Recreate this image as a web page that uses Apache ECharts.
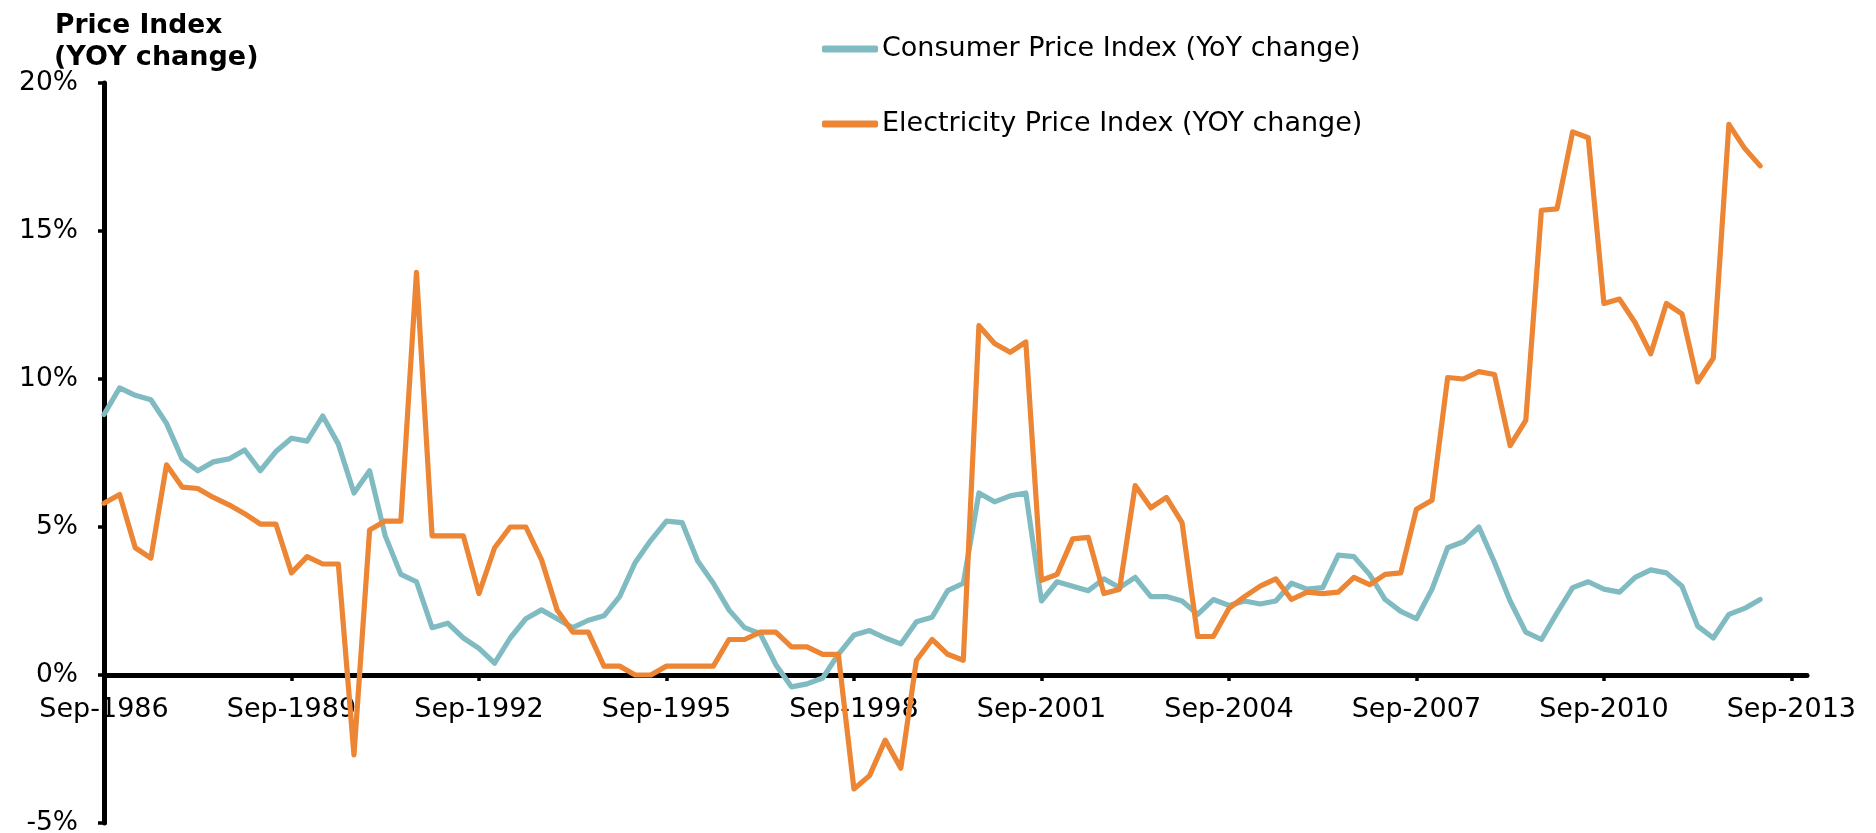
<!DOCTYPE html>
<html>
<head>
<meta charset="utf-8">
<script src="https://cdn.jsdelivr.net/npm/echarts@6/dist/echarts.min.js"></script>
<style>
html,body{margin:0;padding:0;background:#fff;}
#chart{width:1876px;height:833px;}
</style>
</head>
<body>
<div id="chart"></div>
<script>
// Quarterly categories: Sep-1986 ... Dec-2013
const months = ['Sep', 'Dec', 'Mar', 'Jun'];
const categories = [];
for (let i = 0; i < 110; i++) {
  const m = months[i % 4];
  const yr = 1986 + Math.floor((i + 1) / 4);
  categories.push(m + '-' + yr);
}

const yTicks = [-5, 0, 5, 10, 15, 20];

const cpiName = 'Consumer Price Index (YoY change)';
const elecName = 'Electricity Price Index (YOY change)';

const cpi = [8.8, 9.7, 9.45, 9.3, 8.5, 7.3, 6.9, 7.2, 7.3, 7.6,
  6.9, 7.55, 8.0, 7.9, 8.75, 7.8, 6.15, 6.9, 4.7, 3.4,
  3.15, 1.6, 1.75, 1.25, 0.9, 0.4, 1.25, 1.9, 2.2, 1.9,
  1.6, 1.85, 2.0, 2.65, 3.8, 4.55, 5.2, 5.15, 3.85, 3.1,
  2.2, 1.6, 1.4, 0.35, -0.4, -0.3, -0.1, 0.7, 1.35, 1.5,
  1.25, 1.05, 1.8, 1.95, 2.85, 3.1, 6.15, 5.85, 6.05, 6.15,
  2.5, 3.15, 3.0, 2.85, 3.25, 2.95, 3.3, 2.65, 2.65, 2.5,
  2.05, 2.55, 2.35, 2.5, 2.4, 2.5, 3.1, 2.9, 2.95, 4.05,
  4.0, 3.4, 2.55, 2.15, 1.9, 2.9, 4.3, 4.5, 5.0, 3.8,
  2.5, 1.45, 1.2, 2.1, 2.95, 3.15, 2.9, 2.8, 3.3, 3.55,
  3.45, 3.0, 1.65, 1.25, 2.05, 2.25, 2.55];

const elec = [5.8, 6.1, 4.3, 3.95, 7.1, 6.35, 6.3, 6.0, 5.75, 5.45,
  5.1, 5.1, 3.45, 4.0, 3.75, 3.75, -2.7, 4.9, 5.2, 5.2,
  13.6, 4.7, 4.7, 4.7, 2.75, 4.3, 5.0, 5.0, 3.9, 2.2,
  1.45, 1.45, 0.3, 0.3, 0.0, 0.0, 0.3, 0.3, 0.3, 0.3,
  1.2, 1.2, 1.45, 1.45, 0.95, 0.95, 0.7, 0.7, -3.85, -3.4,
  -2.2, -3.15, 0.5, 1.2, 0.7, 0.5, 11.8, 11.2, 10.9, 11.25,
  3.2, 3.4, 4.6, 4.65, 2.75, 2.9, 6.4, 5.65, 6.0, 5.15,
  1.3, 1.3, 2.25, 2.65, 3.0, 3.25, 2.55, 2.8, 2.75, 2.8,
  3.3, 3.05, 3.4, 3.45, 5.6, 5.9, 10.05, 10.0, 10.25, 10.15,
  7.75, 8.6, 15.7, 15.75, 18.35, 18.15, 12.55, 12.7, 11.9, 10.85,
  12.55, 12.2, 9.9, 10.7, 18.6, 17.8, 17.2];

const cpiColor = '#80BBC2';
const elecColor = '#EC8534';
const mainFont = '"DejaVu Sans", Verdana, sans-serif';

// grid geometry: top 83, bottom edge at 823 -> 0% sits 148px above bottom
const gridTop = 83, gridBottom = 10, chartH = 833;
const plotH = chartH - gridTop - gridBottom;
const zeroOffset = -plotH * (0 - yTicks[0]) / (yTicks[yTicks.length - 1] - yTicks[0]);

const chart = echarts.init(document.getElementById('chart'), null, {renderer: 'canvas'});
chart.setOption({
  animation: false,
  backgroundColor: '#ffffff',
  title: [
    {
      text: 'Price Index',
      left: 55,
      top: 13,
      padding: 0,
      textStyle: {fontFamily: mainFont, fontWeight: 'bold', fontSize: 26.5, lineHeight: 27, color: '#000'}
    },
    {
      text: '(YOY change)',
      left: 54,
      top: 44,
      padding: 0,
      textStyle: {fontFamily: mainFont, fontWeight: 'bold', fontSize: 27, lineHeight: 27, color: '#000'}
    }
  ],
  legend: {
    orient: 'vertical',
    left: 822,
    top: 34,
    padding: 0,
    itemWidth: 56,
    itemHeight: 7,
    itemGap: 45,
    icon: 'roundRect',
    data: [cpiName, elecName],
    textStyle: {
      fontFamily: mainFont,
      fontSize: 27,
      lineHeight: 30,
      color: '#000',
      padding: [0, 0, 0, -1]
    }
  },
  grid: {left: 104, right: 69, top: gridTop, bottom: gridBottom, containLabel: false, outerBoundsMode: 'none'},
  xAxis: {
    type: 'category',
    data: categories,
    boundaryGap: false,
    offset: zeroOffset,
    axisLine: {show: true, onZero: false, lineStyle: {color: '#000', width: 5}},
    axisTick: {
      show: true,
      length: 6,
      lineStyle: {color: '#000', width: 3.5},
      interval: function (idx) { return idx % 12 === 0; }
    },
    axisLabel: {
      interval: function (idx) { return idx % 12 === 0; },
      margin: 21,
      fontFamily: mainFont,
      fontSize: 27,
      color: '#000',
      hideOverlap: false
    },
    splitLine: {show: false}
  },
  yAxis: {
    type: 'value',
    min: yTicks[0],
    max: yTicks[yTicks.length - 1],
    interval: 5,
    axisLine: {show: true, lineStyle: {color: '#000', width: 5}},
    axisTick: {show: true, length: 6, lineStyle: {color: '#000', width: 3.5}},
    axisLabel: {
      formatter: '{value}%',
      margin: 26,
      fontFamily: mainFont,
      fontSize: 26.5,
      color: '#000'
    },
    splitLine: {show: false}
  },
  series: [
    {
      name: cpiName,
      type: 'line',
      data: cpi,
      showSymbol: false,
      symbol: 'none',
      color: cpiColor,
      lineStyle: {color: cpiColor, width: 5.2, join: 'round', cap: 'round'}
    },
    {
      name: elecName,
      type: 'line',
      data: elec,
      showSymbol: false,
      symbol: 'none',
      color: elecColor,
      lineStyle: {color: elecColor, width: 5.2, join: 'round', cap: 'round'}
    }
  ]
});
</script>
</body>
</html>
